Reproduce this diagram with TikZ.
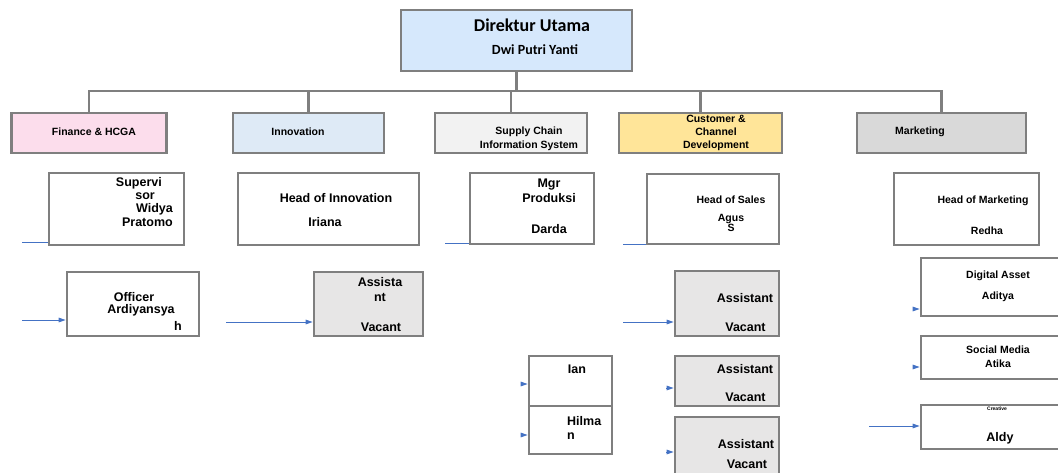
\documentclass[tikz,border=0pt]{standalone}
\usepackage{fontspec}
\setmainfont{Liberation Sans}
\newfontfamily\calibfont{Carlito}
\usetikzlibrary{arrows.meta}

\definecolor{framegray}{RGB}{127,127,127}
\definecolor{linkblue}{RGB}{68,114,196}
\definecolor{dirblue}{RGB}{214,232,252}
\definecolor{finpink}{RGB}{252,221,236}
\definecolor{innoblue}{RGB}{222,234,246}
\definecolor{scisgray}{RGB}{242,242,242}
\definecolor{custyellow}{RGB}{255,229,153}
\definecolor{mktgray}{RGB}{217,217,217}
\definecolor{vacgray}{RGB}{231,230,230}

\tikzset{
  box/.style={draw=framegray, line width=2.6pt, inner sep=0pt},
  orgline/.style={draw=framegray, line width=2.5pt},
  blueline/.style={draw=linkblue, line width=1pt},
  bluearrow/.style={blueline, -{Triangle[length=7pt,width=4.5pt]}},
  lbl/.style={inner sep=0pt, font=\bfseries\fontsize{12.5}{12.5}\selectfont, align=center},
  slbl/.style={inner sep=0pt, font=\bfseries\fontsize{10.5}{13}\selectfont, align=center},
}

\begin{document}
\begin{tikzpicture}[x=1pt,y=-1pt]
  \useasboundingbox (0,0) rectangle (1058,472);
  \clip (0,0) rectangle (1058,472);

  % top
  \node[box, line width=2pt, fill=dirblue, minimum width=231pt, minimum height=61pt] (dir) at (516.5,40.5) {};
  \node[inner sep=0pt, font=\calibfont\bfseries\fontsize{18}{18}\selectfont] (dirT) at (532,25) {Direktur Utama};
  \node[inner sep=0pt, font=\calibfont\bfseries\fontsize{14}{14}\selectfont] (dirN) at (535,50) {Dwi Putri Yanti};

  % divisions
  \node[box, fill=finpink, minimum width=155pt, minimum height=40pt] (fin) at (89,133) {};
  \node[box, fill=innoblue, minimum width=151pt, minimum height=40pt] (inno) at (308.5,133) {};
  \node[box, fill=scisgray, minimum width=152pt, minimum height=40pt] (scis) at (511,133) {};
  \node[box, fill=custyellow, minimum width=163pt, minimum height=40pt] (cust) at (700.5,133) {};
  \node[box, fill=mktgray, minimum width=169pt, minimum height=40pt] (mkt) at (941.5,133) {};
  \node[slbl] (finT) at (94,132) {Finance \& HCGA};
  \node[slbl] (innoT) at (298,132) {Innovation};
  \node[slbl, font=\bfseries\fontsize{10.5}{14}\selectfont] (scisT) at (529,139) {Supply Chain\\Information System};
  \node[slbl] (custT) at (716,133) {Customer \&\\Channel\\Development};
  \node[slbl] (mktT) at (920,132) {Marketing};

  \draw[orgline] (dir.south) -- ++(0,19) coordinate (bus);
  \foreach \d in {fin,inno,scis,cust,mkt}
    \draw[orgline] (\d.north) |- (bus);

  % heads
  \node[box, minimum width=135pt, minimum height=72pt] (sup) at (116.5,209) {};
  \node[box, minimum width=181pt, minimum height=72pt] (hinno) at (328.5,209) {};
  \node[box, minimum width=124pt, minimum height=71pt] (mgr) at (532,208.5) {};
  \node[box, minimum width=132pt, minimum height=70pt] (hsales) at (713,209) {};
  \node[box, minimum width=145pt, minimum height=72pt] (hmkt) at (966.5,209) {};

  \node[lbl, anchor=east] (supT1) at (162,183) {Supervi};
  \node[lbl, anchor=east] (supT2) at (155,196) {sor};
  \node[lbl, anchor=east] (supN1) at (173,209) {Widya};
  \node[lbl, anchor=east] (supN2) at (173,222) {Pratomo};
  \node[lbl] (hinnoT) at (336,198) {Head of Innovation};
  \node[lbl] (hinnoN) at (325,222) {Iriana};
  \node[lbl, font=\bfseries\fontsize{12.5}{15}\selectfont] (mgrT) at (549,190.5) {Mgr\\Produksi};
  \node[lbl] (mgrN) at (549,229) {Darda};
  \node[slbl] (hsalesT) at (731,200) {Head of Sales};
  \node[slbl, font=\bfseries\fontsize{10.5}{10}\selectfont] (hsalesN) at (731,223) {Agus\\S};
  \node[slbl] (hmktT) at (983,201) {Head of Marketing};
  \node[slbl] (hmktN) at (987,231) {Redha};

  % staff
  \node[box, minimum width=132pt, minimum height=64pt] (off) at (133,304) {};
  \node[box, fill=vacgray, minimum width=109pt, minimum height=64pt] (inast) at (368.5,304) {};
  \node[box, fill=vacgray, minimum width=104pt, minimum height=65pt] (ca1) at (727,303.5) {};
  \node[box, fill=vacgray, minimum width=104pt, minimum height=50pt] (ca2) at (727,381) {};
  \node[box, fill=vacgray, minimum width=104pt, minimum height=83pt] (ca3) at (727,458.5) {};
  \node[box, minimum width=83pt, minimum height=50pt] (ian) at (570.5,381) {};
  \node[box, minimum width=83pt, minimum height=48pt] (hil) at (570.5,430) {};
  \node[box, minimum width=159pt, minimum height=58pt] (da) at (1000.5,287) {};
  \node[box, minimum width=159pt, minimum height=43pt] (sm) at (1000.5,357.5) {};
  \node[box, minimum width=159pt, minimum height=44pt] (cr) at (1000.5,427) {};

  \node[lbl] (offT) at (134,297) {Officer};
  \node[lbl] (offN1) at (141,310) {Ardiyansya};
  \node[lbl] (offN2) at (178,326) {h};
  \node[lbl, font=\bfseries\fontsize{12.5}{15}\selectfont] (inastT) at (380,289.5) {Assista\\nt};
  \node[lbl] (inastN) at (381,327) {Vacant};
  \node[lbl] (ca1T) at (745,298) {Assistant};
  \node[lbl] (ca1N) at (745.5,327) {Vacant};
  \node[lbl] (ca2T) at (745,369) {Assistant};
  \node[lbl] (ca2N) at (745.5,397) {Vacant};
  \node[lbl] (ca3T) at (746,444) {Assistant};
  \node[lbl] (ca3N) at (747,464) {Vacant};
  \node[lbl] (ianN) at (577,369) {Ian};
  \node[lbl, anchor=west] (hilN1) at (567,421) {Hilma};
  \node[lbl, anchor=west] (hilN2) at (567,436) {n};
  \node[slbl] (daT) at (998,276) {Digital Asset};
  \node[slbl] (daN) at (998,297) {Aditya};
  \node[slbl] (smT) at (998,350) {Social Media};
  \node[slbl] (smN) at (998,364) {Atika};
  \node[inner sep=0pt, font=\bfseries\fontsize{5}{5}\selectfont] (crT) at (997,409) {Creative};
  \node[lbl] (crN) at (1000,438) {Aldy};

  % blue links
  \coordinate (supS) at (22,242);
  \coordinate (mgrS) at (445,243);
  \coordinate (hsalesS) at (623,244);
  \draw[blueline] (supS) -- (sup.west |- supS);
  \draw[blueline] (mgrS) -- (mgr.west |- mgrS);
  \draw[blueline] (hsalesS) -- (hsales.west |- hsalesS);

  \coordinate (offA) at (22,320);
  \coordinate (inastA) at (226,322);
  \coordinate (ca1A) at (623,322);
  \coordinate (ca2A) at (666,388);
  \coordinate (ca3A) at (666,452);
  \coordinate (ianA) at (521,384);
  \coordinate (hilA) at (521,435);
  \coordinate (daA) at (913,309);
  \coordinate (smA) at (913,367);
  \coordinate (crA) at (869,426);
  \foreach \s in {off,inast,ca1,ca2,ca3,ian,hil,da,sm,cr}
    \draw[bluearrow] (\s A) -- (\s.west |- \s A);
\end{tikzpicture}
\end{document}
